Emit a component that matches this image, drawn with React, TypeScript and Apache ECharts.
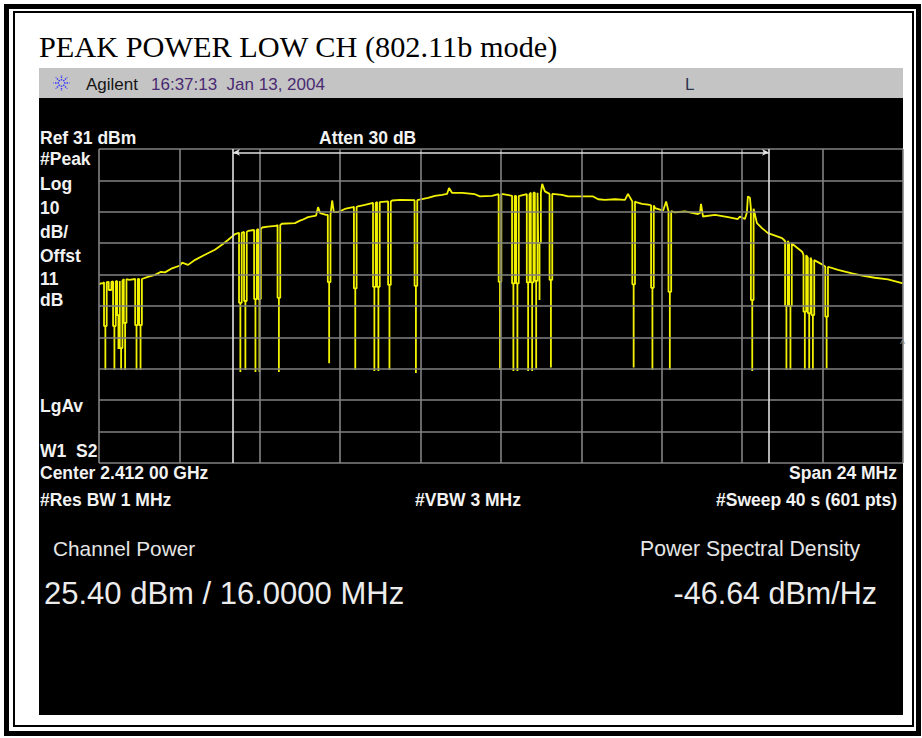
import React, { useEffect, useRef } from "react";
import * as echarts from "echarts";

// ---- texts ----
const TITLE = "PEAK POWER LOW CH (802.11b mode)";
const HEADER_BRAND = "Agilent";
const HEADER_TIME = "16:37:13  Jan 13, 2004";
const HEADER_FLAG = "L";
const REF_TEXT = "Ref 31 dBm";
const ATTEN_TEXT = "Atten 30 dB";
const LEFT_LABELS = ["#Peak", "Log", "10", "dB/", "Offst", "11", "dB"];
const LEFT_LABEL_Y = [159, 183.5, 207.5, 232, 256, 278.7, 299.5];
const DETECTOR_LABEL = "LgAv";
const TRACE_LABEL = "W1  S2";
const CENTER_TEXT = "Center 2.412 00 GHz";
const SPAN_TEXT = "Span 24 MHz";
const RBW_TEXT = "#Res BW 1 MHz";
const VBW_TEXT = "#VBW 3 MHz";
const SWEEP_TEXT = "#Sweep 40 s (601 pts)";
const CP_LABEL = "Channel Power";
const PSD_LABEL = "Power Spectral Density";
const CP_VALUE = "25.40 dBm / 16.0000 MHz";
const PSD_VALUE = "-46.64 dBm/Hz";

// ---- instrument scale ----
const REF_LEVEL = 31; // dBm
const DB_PER_DIV = 10;
const DIVS = 10;
const CENTER_MHZ = 2412;
const SPAN_MHZ = 24;
const POINTS = 601;
const CHANNEL_BW_MHZ = 16;

// ---- trace envelope: [MHz, dBm] ----
const envelope: [number, number][] = [
  [2400.0, -12.1], [2400.06, -11.8], [2400.12, -11.7], [2400.27, -11.3], [2400.39, -11.2],
  [2400.57, -11.0], [2400.78, -10.4], [2400.9, -10.7], [2401.07, -10.4], [2401.22, -10.4],
  [2401.46, -9.7], [2401.67, -9.1], [2401.85, -8.1], [2401.97, -8.3], [2402.18, -7.0],
  [2402.42, -6.1], [2402.48, -5.2], [2402.66, -5.9], [2402.87, -4.3], [2403.16, -2.7],
  [2403.46, -1.1], [2403.67, 0.5], [2403.85, 2.0], [2404.06, 3.9], [2404.27, 4.4],
  [2404.45, 4.9], [2404.66, 5.2], [2404.87, 6.0], [2405.04, 6.3], [2405.28, 6.5],
  [2405.46, 7.2], [2405.85, 7.4], [2406.0, 8.2], [2406.06, 8.4], [2406.24, 9.3],
  [2406.48, 9.8], [2406.54, 12.5], [2406.6, 10.6], [2406.78, 10.0], [2406.96, 14.6],
  [2407.01, 10.9], [2407.13, 10.9], [2407.34, 11.9], [2407.58, 12.5], [2407.73, 12.7],
  [2407.94, 13.2], [2408.15, 13.8], [2408.39, 14.3], [2408.63, 14.3], [2408.75, 14.6],
  [2408.99, 14.8], [2409.43, 14.6], [2409.52, 15.0], [2409.82, 15.4], [2410.03, 16.1],
  [2410.24, 16.4], [2410.39, 16.7], [2410.45, 18.6], [2410.54, 17.0], [2410.84, 17.0],
  [2411.22, 16.6], [2411.37, 15.9], [2411.73, 16.1], [2411.91, 16.6], [2412.06, 16.6],
  [2412.27, 16.2], [2412.51, 15.9], [2412.78, 16.6], [2412.93, 17.1], [2413.04, 17.1],
  [2413.23, 19.9], [2413.31, 17.5], [2413.55, 16.7], [2413.82, 16.4], [2414.0, 15.9],
  [2414.75, 15.9], [2414.9, 15.0], [2415.1, 14.8], [2415.4, 15.0], [2415.7, 14.8],
  [2415.79, 16.7], [2415.91, 14.3], [2416.03, 14.1], [2416.21, 13.5], [2416.45, 13.2],
  [2416.6, 12.2], [2416.84, 11.4], [2416.93, 14.3], [2416.99, 11.3], [2417.19, 10.8],
  [2417.49, 11.1], [2417.88, 10.3], [2417.94, 10.6], [2417.97, 13.5], [2418.03, 9.5],
  [2418.39, 10.0], [2418.78, 9.3], [2419.07, 8.7], [2419.13, 9.5], [2419.28, 8.7],
  [2419.34, 10.8], [2419.37, 15.9], [2419.43, 15.5], [2419.55, 9.5], [2419.64, 7.4],
  [2419.79, 5.8], [2419.97, 4.2], [2420.39, 2.6], [2420.51, 1.7], [2420.69, 0.5],
  [2420.99, -1.7], [2421.04, -2.7], [2421.37, -4.9], [2421.61, -5.9], [2421.76, -6.7],
  [2422.06, -7.5], [2422.48, -8.6], [2422.78, -9.3], [2423.16, -10.0], [2423.55, -10.5],
  [2424.0, -11.8],
];

// ---- dropouts: [MHz, envelope dBm, shoulder dBm, floor dBm] ----
const dropouts: [number, number, number, number][] = [
  [2400.19, -11.4, -25.4, -39.4], [2400.33, -11.3, -13.9, -13.9], [2400.46, -11.2, -25.4, -39.4],
  [2400.58, -11.0, -21.9, -32.7], [2400.66, -11.0, -32.4, -39.4], [2400.78, -10.4, -24.4, -39.4],
  [2401.12, -10.4, -25.1, -39.4], [2401.24, -10.4, -25.1, -39.4],
  [2404.22, 4.3, -18.0, -40.0], [2404.37, 4.6, -17.4, -39.4], [2404.67, 5.2, -16.8, -40.0],
  [2404.79, 5.5, -16.8, -40.0], [2405.37, 6.8, -16.4, -40.0],
  [2406.87, 10.0, -11.4, -37.2], [2407.65, 12.6, -13.4, -39.4], [2408.22, 13.8, -12.9, -39.7],
  [2408.34, 14.1, -12.9, -39.7], [2408.67, 14.3, -12.3, -39.4], [2409.46, 14.7, -12.6, -40.3],
  [2411.97, 16.6, -11.3, -39.4], [2412.37, 16.1, -11.8, -39.7], [2412.49, 16.0, -11.8, -39.7],
  [2412.81, 16.6, -11.5, -39.7], [2412.93, 17.1, -11.5, -39.7], [2413.05, 17.1, -11.0, -38.9],
  [2413.15, 17.1, 1.1, -17.1], [2413.49, 16.7, -10.7, -38.6],
  [2415.96, 14.3, -12.1, -38.6], [2416.52, 13.0, -13.2, -39.4], [2417.04, 11.2, -14.5, -39.4],
  [2419.5, 12.0, -17.1, -39.7], [2420.52, 1.7, -19.0, -39.4], [2420.64, 0.9, -19.0, -39.4],
  [2421.07, -2.8, -20.8, -39.4], [2421.2, -3.6, -21.3, -39.4], [2421.31, -4.4, -21.9, -39.4],
  [2421.72, -6.5, -22.4, -38.9],
];

const START_MHZ = CENTER_MHZ - SPAN_MHZ / 2;
const STOP_MHZ = CENTER_MHZ + SPAN_MHZ / 2;
const BOTTOM_LEVEL = REF_LEVEL - DB_PER_DIV * DIVS;
const STEP = SPAN_MHZ / (POINTS - 1);

function buildTrace(): [number, number][] {
  const pts: [number, number][] = [];
  for (const [f, v] of envelope) {
    if (!dropouts.some((d) => Math.abs(d[0] - f) < STEP * 1.6)) pts.push([f, v]);
  }
  for (const [f, e, m, d] of dropouts) {
    const l = f - STEP;
    const r = f + STEP;
    pts.push([l, e], [l, m], [f, m], [f, d], [f, m], [r, m], [r, e]);
  }
  pts.sort((a, b) => a[0] - b[0]);
  return pts;
}

const SANS = "Liberation Sans";

function txt(text: string, x: number, y: number, size: number, o: any = {}) {
  const align = o.align || "left";
  return {
    type: "text",
    x,
    y,
    z: 1,
    silent: true,
    style: {
      text,
      fill: o.fill || "#f2f2f2",
      fontSize: size,
      fontFamily: o.family || SANS,
      fontWeight: o.weight || "normal",
      align,
      textAlign: align,
      verticalAlign: "middle",
      textVerticalAlign: "middle",
    },
  };
}

export default function App() {
  const ref = useRef<HTMLDivElement>(null);
  useEffect(() => {
    if (!ref.current) return;
    const chart = echarts.init(ref.current, undefined, { renderer: "svg" });

    const hLines = [];
    for (let k = 0; k <= DIVS; k++) hLines.push({ yAxis: REF_LEVEL - k * DB_PER_DIV });
    const vLines = [];
    for (let k = 0; k <= DIVS; k++) vLines.push({ xAxis: START_MHZ + (k * SPAN_MHZ) / DIVS });

    const chLo = CENTER_MHZ - CHANNEL_BW_MHZ / 2;
    const chHi = CENTER_MHZ + CHANNEL_BW_MHZ / 2;
    const arrowLevel = REF_LEVEL - 1.1;

    const logoRays = [];
    for (let k = 0; k < 8; k++) {
      const a = (k * Math.PI) / 4;
      logoRays.push({
        type: "line",
        z: 1,
        silent: true,
        shape: {
          x1: 61.5 + Math.cos(a) * 2.5,
          y1: 83 + Math.sin(a) * 2.5,
          x2: 61.5 + Math.cos(a) * 8,
          y2: 83 + Math.sin(a) * 8,
        },
        style: { stroke: "#3434ff", lineWidth: 1.4, lineDash: [1.5, 1] },
      });
    }

    const bold = { weight: "bold" };
    const LB = 17.5;
    const graphics: any[] = [
      { type: "rect", z: 0, silent: true, shape: { x: 0, y: 0, width: 922, height: 738 }, style: { fill: "#ffffff" } },
      { type: "rect", z: 0, silent: true, shape: { x: 6.5, y: 6.5, width: 912, height: 727 }, style: { fill: "none", stroke: "#000", lineWidth: 5 } },
      { type: "rect", z: 0, silent: true, shape: { x: 14, y: 12, width: 899, height: 714 }, style: { fill: "none", stroke: "#000", lineWidth: 2 } },
      { type: "rect", z: 0, silent: true, shape: { x: 39, y: 68, width: 864, height: 30 }, style: { fill: "#c4c4c4" } },
      { type: "rect", z: 0, silent: true, shape: { x: 39, y: 98, width: 864, height: 617 }, style: { fill: "#000000" } },
      txt(TITLE, 39, 47.2, 30.3, { family: "Liberation Serif", fill: "#000" }),
      ...logoRays,
      txt(HEADER_BRAND, 86, 84, 17, { fill: "#151515" }),
      txt(HEADER_TIME, 151, 84, 17, { fill: "#4a2a72" }),
      txt(HEADER_FLAG, 685, 84, 17, { fill: "#2b3550" }),
      txt(REF_TEXT, 40, 138, LB, bold),
      txt(ATTEN_TEXT, 319, 138, LB, bold),
      ...LEFT_LABELS.map((t, i) => txt(t, 40, LEFT_LABEL_Y[i], LB, bold)),
      txt(DETECTOR_LABEL, 40, 406, LB, bold),
      txt(TRACE_LABEL, 40, 451, LB, bold),
      txt(CENTER_TEXT, 40, 473, LB, bold),
      txt(SPAN_TEXT, 897, 473, LB, { ...bold, align: "right" }),
      txt(RBW_TEXT, 40, 500, LB, bold),
      txt(VBW_TEXT, 415, 500, LB, bold),
      txt(SWEEP_TEXT, 897, 500, LB, { ...bold, align: "right" }),
      txt("^", 900, 344, 11, { fill: "#9a9a9a" }),
      txt(CP_LABEL, 53, 548, 20.8, { fill: "#e6e6e6" }),
      txt(PSD_LABEL, 640, 548, 21.2, { fill: "#e6e6e6" }),
      txt(CP_VALUE, 44, 593, 31, { fill: "#ececec" }),
      txt(PSD_VALUE, 877, 593, 30.5, { fill: "#ececec", align: "right" }),
    ];

    chart.setOption({
      animation: false,
      backgroundColor: "transparent",
      graphic: { elements: graphics },
      grid: {
        left: 99,
        top: 149,
        right: 19,
        bottom: 275,
        show: false,
      },
      xAxis: { type: "value", min: START_MHZ, max: STOP_MHZ, show: false },
      yAxis: { type: "value", min: BOTTOM_LEVEL, max: REF_LEVEL, show: false },
      series: [
        {
          type: "line",
          data: [],
          z: 3,
          silent: true,
          markLine: {
            silent: true,
            animation: false,
            symbol: ["none", "none"],
            label: { show: false },
            lineStyle: { color: "#828282", width: 1.6, type: "solid" },
            data: [...hLines, ...vLines],
          },
        },
        {
          type: "line",
          data: [],
          z: 3,
          silent: true,
          markLine: {
            silent: true,
            animation: false,
            symbol: ["none", "none"],
            label: { show: false },
            lineStyle: { color: "#e0e0e0", width: 1.6, type: "solid" },
            data: [
              { xAxis: chLo },
              { xAxis: chHi },
              [
                { coord: [chLo, arrowLevel], symbol: "arrow", symbolSize: [5, 7] },
                { coord: [chHi, arrowLevel], symbol: "arrow", symbolSize: [5, 7] },
              ],
            ],
          },
        },
        {
          type: "line",
          name: "Trace 1",
          data: buildTrace(),
          z: 4,
          silent: true,
          showSymbol: false,
          symbol: "none",
          clip: true,
          lineStyle: { color: "#f2f200", width: 1.8 },
        },
      ],
    });
    return () => chart.dispose();
  }, []);
  return (
    <div
      ref={ref}
      style={{ position: "absolute", left: 0, top: 0, width: 922, height: 738 }}
    />
  );
}
